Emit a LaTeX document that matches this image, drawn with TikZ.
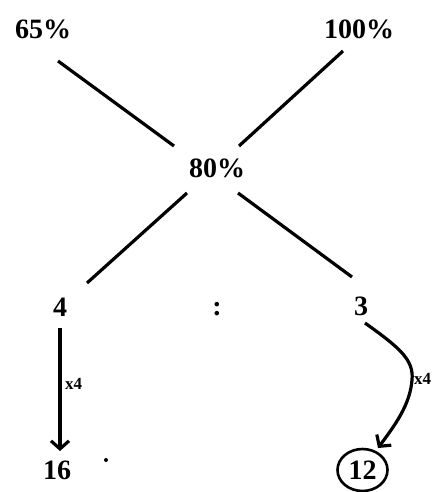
\documentclass[tikz,border=0pt]{standalone}
\usepackage{fontspec}
\setmainfont{Liberation Serif}
\usetikzlibrary{arrows.meta}
\begin{document}
\begin{tikzpicture}[x=1pt,y=-1pt,
  big/.style={font=\fontsize{28}{32}\selectfont\bfseries, inner sep=0pt},
  small/.style={font=\fontsize{17}{20}\selectfont\bfseries, inner sep=0pt},
  ln/.style={line width=3.2pt},
  arr/.style={line width=3.2pt, -{Straight Barb[length=8pt,width=18pt]}}]
\useasboundingbox (0,0) rectangle (436,492);
\node[big] (a) at (43,29) {65\%};
\node[big] (b) at (359,29) {100\%};
\node[big] (m) at (217,168) {80\%};
\node[big] (l) at (60,307) {4};
\node[big] (c) at (217,309) {:};
\node[big] (r) at (361,306) {3};
\node[big] (ll) at (57,470) {16};
\node[big] (rr) at (362.5,470) {12};
\draw[line width=2.6pt] (rr) ellipse [x radius=25, y radius=21];
\fill (106,460) circle (2);
\coordinate (a1) at (58,61);
\coordinate (m1) at (174,146);
\coordinate (b1) at (343,51);
\coordinate (m2) at (239,146);
\coordinate (m3) at (187,193);
\coordinate (l1) at (87,283);
\coordinate (m4) at (238,193);
\coordinate (r1) at (352,277);
\draw[ln] (a1) -- (m1);
\draw[ln] (b1) -- (m2);
\draw[ln] (m3) -- (l1);
\draw[ln] (m4) -- (r1);
\coordinate (s1) at (60,328);
\coordinate (t1) at (60,451);
\draw[arr] (s1) -- (t1);
\node[small, anchor=west] (k1) at (65,384) {x4};
\coordinate (s2) at (365,323);
\coordinate (t2) at (378,448);
\draw[arr] (s2) .. controls (400,348) and (414,360) .. (412,380) .. controls (410,405) and (395,425) .. (t2);
\node[small, anchor=west] (k2) at (414,379) {x4};
\end{tikzpicture}
\end{document}
